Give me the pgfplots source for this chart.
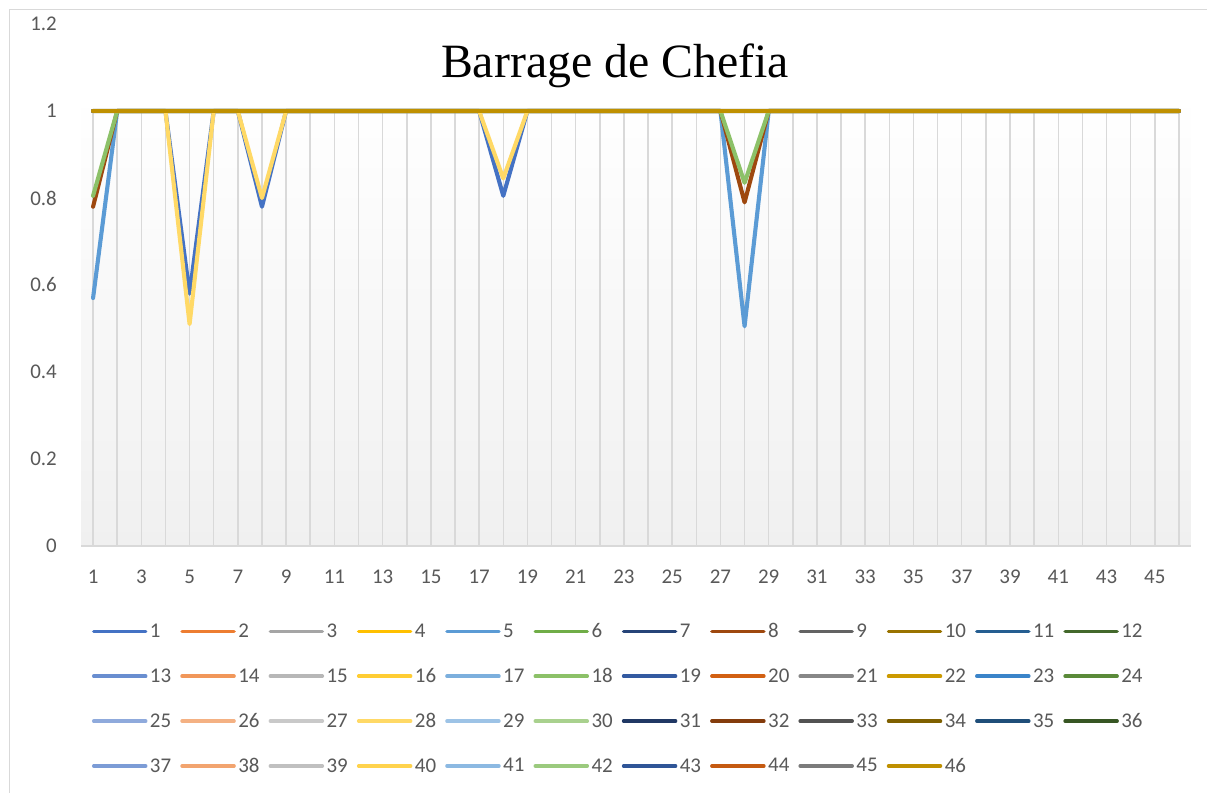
\documentclass[border=0pt]{standalone}
\usepackage{fontspec}
\setmainfont{Carlito}
\newfontfamily\titlefont{Liberation Serif}
\usepackage{pgfplots}
\usepackage{pgfplotstable}
\pgfplotsset{compat=1.18}

\definecolor{c1}{HTML}{4472C4}\definecolor{c2}{HTML}{ED7D31}\definecolor{c3}{HTML}{A5A5A5}
\definecolor{c4}{HTML}{FFC000}\definecolor{c5}{HTML}{5B9BD5}\definecolor{c6}{HTML}{70AD47}
\definecolor{c7}{HTML}{264478}\definecolor{c8}{HTML}{9E480E}\definecolor{c9}{HTML}{636363}
\definecolor{c10}{HTML}{997300}\definecolor{c11}{HTML}{255E91}\definecolor{c12}{HTML}{43682B}
\definecolor{c13}{HTML}{698ED0}\definecolor{c14}{HTML}{F1975A}\definecolor{c15}{HTML}{B7B7B7}
\definecolor{c16}{HTML}{FFCD33}\definecolor{c17}{HTML}{7CAFDD}\definecolor{c18}{HTML}{8CC168}
\definecolor{c19}{HTML}{335AA1}\definecolor{c20}{HTML}{D26012}\definecolor{c21}{HTML}{878787}
\definecolor{c22}{HTML}{CC9A00}\definecolor{c23}{HTML}{3A84C9}\definecolor{c24}{HTML}{5A8A39}
\definecolor{c25}{HTML}{8FAADC}\definecolor{c26}{HTML}{F4B183}\definecolor{c27}{HTML}{C9C9C9}
\definecolor{c28}{HTML}{FFD966}\definecolor{c29}{HTML}{9DC3E6}\definecolor{c30}{HTML}{A9D18E}
\definecolor{c31}{HTML}{203864}\definecolor{c32}{HTML}{843C0C}\definecolor{c33}{HTML}{525252}
\definecolor{c34}{HTML}{7F6000}\definecolor{c35}{HTML}{1F4E79}\definecolor{c36}{HTML}{375623}
\definecolor{c37}{HTML}{7C9CD6}\definecolor{c38}{HTML}{F2A46F}\definecolor{c39}{HTML}{C0C0C0}
\definecolor{c40}{HTML}{FFD34D}\definecolor{c41}{HTML}{8CB9E2}\definecolor{c42}{HTML}{9BCA7E}
\definecolor{c43}{HTML}{2F5597}\definecolor{c44}{HTML}{C55A11}\definecolor{c45}{HTML}{7B7B7B}
\definecolor{c46}{HTML}{BF9000}
\definecolor{gridc}{HTML}{D9D9D9}
\definecolor{bgbot}{HTML}{F0F0F0}
\definecolor{labc}{HTML}{595959}

% columns: a = series 1, b = series 5, c = series 8, d = series 18, e = series 28, one = all other series
\pgfplotstableread{
x a b c d e one
1 1 0.57 0.78 0.805 1 1
2 1 1 1 1 1 1
3 1 1 1 1 1 1
4 1 1 1 1 1 1
5 0.58 1 1 1 0.51 1
6 1 1 1 1 1 1
7 1 1 1 1 1 1
8 0.78 1 1 1 0.80 1
9 1 1 1 1 1 1
10 1 1 1 1 1 1
11 1 1 1 1 1 1
12 1 1 1 1 1 1
13 1 1 1 1 1 1
14 1 1 1 1 1 1
15 1 1 1 1 1 1
16 1 1 1 1 1 1
17 1 1 1 1 1 1
18 0.805 1 1 1 0.845 1
19 1 1 1 1 1 1
20 1 1 1 1 1 1
21 1 1 1 1 1 1
22 1 1 1 1 1 1
23 1 1 1 1 1 1
24 1 1 1 1 1 1
25 1 1 1 1 1 1
26 1 1 1 1 1 1
27 1 1 1 1 1 1
28 1 0.505 0.79 0.835 1 1
29 1 1 1 1 1 1
30 1 1 1 1 1 1
31 1 1 1 1 1 1
32 1 1 1 1 1 1
33 1 1 1 1 1 1
34 1 1 1 1 1 1
35 1 1 1 1 1 1
36 1 1 1 1 1 1
37 1 1 1 1 1 1
38 1 1 1 1 1 1
39 1 1 1 1 1 1
40 1 1 1 1 1 1
41 1 1 1 1 1 1
42 1 1 1 1 1 1
43 1 1 1 1 1 1
44 1 1 1 1 1 1
45 1 1 1 1 1 1
46 1 1 1 1 1 1
}\data

\begin{document}
\begin{tikzpicture}
\path[use as bounding box] (0bp,0bp) rectangle (1207bp,-793bp);
\fill[white] (0bp,0bp) rectangle (1207bp,-793bp);
\draw[gridc, line width=1.5bp] (9.5bp,-900bp) -- (9.5bp,-9.5bp) -- (1300bp,-9.5bp);
\node[font=\titlefont\fontsize{48}{56}\selectfont, anchor=base, text=black, inner sep=0pt] at (615bp,-77bp) {Barrage de Chefia};
\begin{axis}[
  at={(81bp,-546bp)}, anchor=south west,
  scale only axis, width=1110bp, height=522bp,
  xmin=0.5, xmax=46.5, ymin=0, ymax=1.2,
  axis line style={draw=none},
  major tick length=0pt,
  xtick={1,3,...,45},
  xticklabels={1,3,5,7,9,11,13,15,17,19,21,23,25,27,29,31,33,35,37,39,41,43,45},
  ytick={0,0.2,0.4,0.6,0.8,1,1.2},
  yticklabels={0,0.2,0.4,0.6,0.8,1,1.2},
  ticklabel style={font=\fontsize{21}{25}\selectfont, text=labc, inner sep=0pt},
  xticklabel style={anchor=north, yshift=-24bp},
  yticklabel style={anchor=east, xshift=-24bp},
  no markers,
  every axis plot/.append style={line width=4.1bp, line join=round, line cap=round},
  legend columns=12,
  legend style={at={(0.0099,-0.1483)}, anchor=north west, draw=none, fill=none,
    inner sep=0pt, outer sep=0pt, row sep=29.1bp,
    nodes={inner sep=0pt, font=\fontsize{21}{25}\selectfont, text=labc},
    /tikz/every odd column/.style={column sep=2.5bp},
    /tikz/every even column/.style={column sep=9.1bp}},
  legend cell align=left,
  legend image code/.code={\draw[#1, line width=3.5bp, line cap=round] (0bp,0bp) -- (52bp,0bp);},
]
\fill[top color=white, bottom color=bgbot] (axis cs:0.5,0) rectangle (axis cs:46.5,1.0437);
\pgfplotsinvokeforeach{1,...,46}{\draw[gridc, line width=1.5bp] (axis cs:#1,0) -- (axis cs:#1,1);}
\draw[gridc, line width=1.2bp] (axis cs:0.5,0) -- (axis cs:46.5,0);
\addplot[c1] table[x=x,y=a]{\data};
\addplot[c2] table[x=x,y=one]{\data};
\addplot[c3] table[x=x,y=one]{\data};
\addplot[c4] table[x=x,y=one]{\data};
\addplot[c5] table[x=x,y=b]{\data};
\addplot[c6] table[x=x,y=one]{\data};
\addplot[c7] table[x=x,y=one]{\data};
\addplot[c8] table[x=x,y=c]{\data};
\addplot[c9] table[x=x,y=one]{\data};
\addplot[c10] table[x=x,y=one]{\data};
\addplot[c11] table[x=x,y=one]{\data};
\addplot[c12] table[x=x,y=one]{\data};
\addplot[c13] table[x=x,y=one]{\data};
\addplot[c14] table[x=x,y=one]{\data};
\addplot[c15] table[x=x,y=one]{\data};
\addplot[c16] table[x=x,y=one]{\data};
\addplot[c17] table[x=x,y=one]{\data};
\addplot[c18] table[x=x,y=d]{\data};
\addplot[c19] table[x=x,y=one]{\data};
\addplot[c20] table[x=x,y=one]{\data};
\addplot[c21] table[x=x,y=one]{\data};
\addplot[c22] table[x=x,y=one]{\data};
\addplot[c23] table[x=x,y=one]{\data};
\addplot[c24] table[x=x,y=one]{\data};
\addplot[c25] table[x=x,y=one]{\data};
\addplot[c26] table[x=x,y=one]{\data};
\addplot[c27] table[x=x,y=one]{\data};
\addplot[c28] table[x=x,y=e]{\data};
\addplot[c29] table[x=x,y=one]{\data};
\addplot[c30] table[x=x,y=one]{\data};
\addplot[c31] table[x=x,y=one]{\data};
\addplot[c32] table[x=x,y=one]{\data};
\addplot[c33] table[x=x,y=one]{\data};
\addplot[c34] table[x=x,y=one]{\data};
\addplot[c35] table[x=x,y=one]{\data};
\addplot[c36] table[x=x,y=one]{\data};
\addplot[c37] table[x=x,y=one]{\data};
\addplot[c38] table[x=x,y=one]{\data};
\addplot[c39] table[x=x,y=one]{\data};
\addplot[c40] table[x=x,y=one]{\data};
\addplot[c41] table[x=x,y=one]{\data};
\addplot[c42] table[x=x,y=one]{\data};
\addplot[c43] table[x=x,y=one]{\data};
\addplot[c44] table[x=x,y=one]{\data};
\addplot[c45] table[x=x,y=one]{\data};
\addplot[c46] table[x=x,y=one]{\data};
\legend{1,2,3,4,5,6,7,8,9,10,11,12,13,14,15,16,17,18,19,20,21,22,23,24,25,26,27,28,29,30,31,32,33,34,35,36,37,38,39,40,41,42,43,44,45,46}
\end{axis}
\end{tikzpicture}
\end{document}
